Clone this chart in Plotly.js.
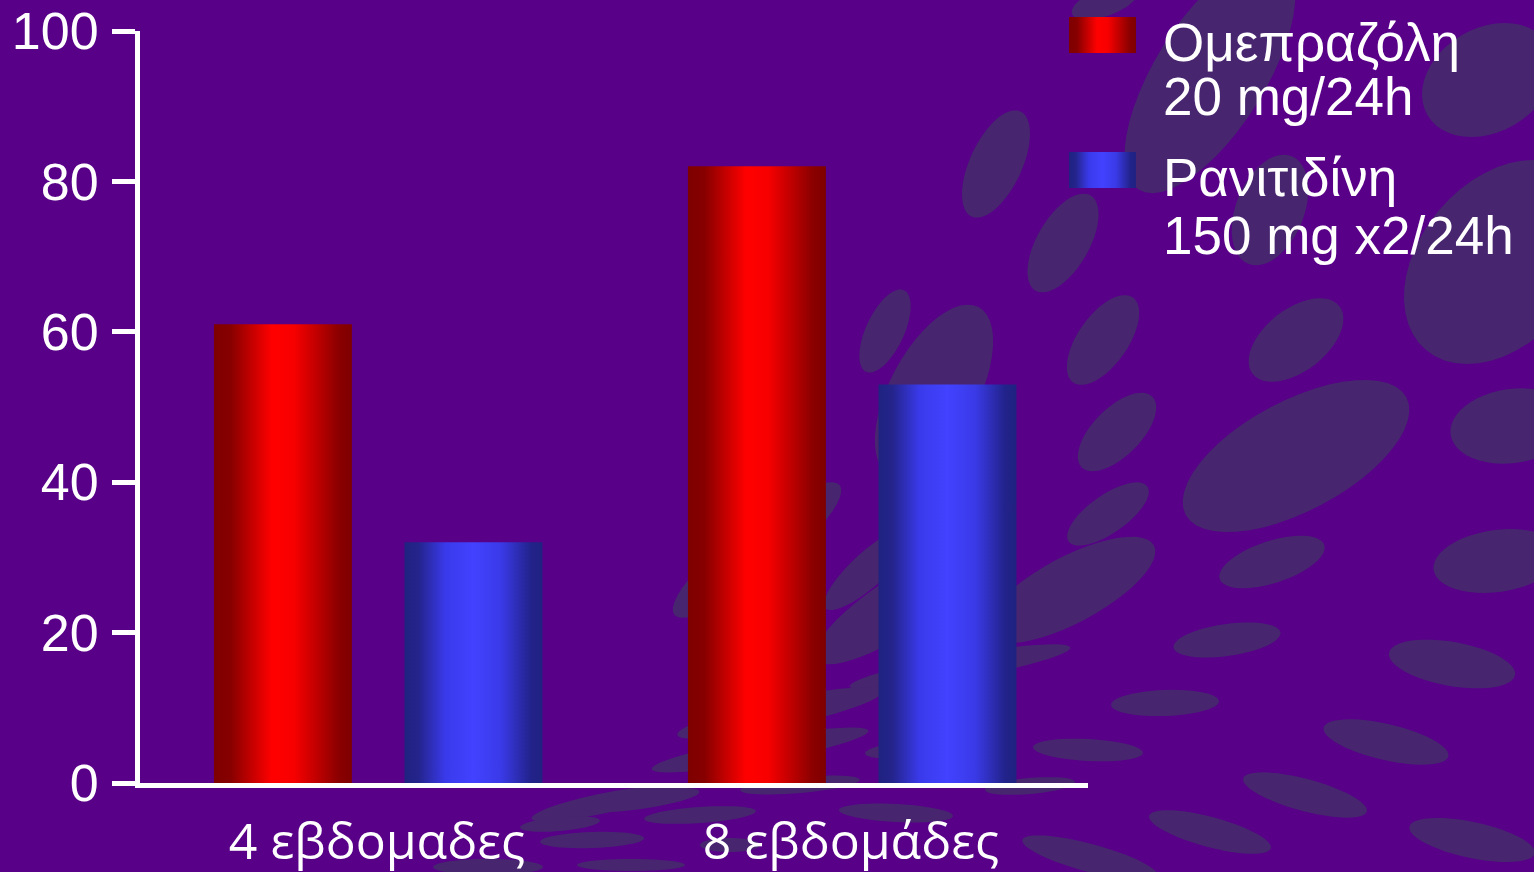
<!DOCTYPE html>
<html>
<head>
<meta charset="utf-8">
<script src="https://cdn.plot.ly/plotly-3.0.1.min.js"></script>
<style>
  html, body { margin: 0; padding: 0; background: #580088; }
  #chart { width: 1534px; height: 872px; }
</style>
</head>
<body>
<div id="chart"></div>
<script>
// ---- data ----
const categories = ['4 εβδομαδες', '8 εβδομάδες'];
const omeprazole = [61, 82];
const ranitidine = [32, 53];
const seriesNames = ['Ομεπραζόλη 20 mg/24h', 'Ρανιτιδίνη 150 mg x2/24h'];
const legendLines = [['Ομεπραζόλη', '20 mg/24h'], ['Ρανιτιδίνη', '150 mg x2/24h']];
const yTicks = [0, 20, 40, 60, 80, 100];

// ---- layout geometry (pixels) ----
const W = 1534, H = 872;
const M = { l: 140, r: 446, t: 31, b: 89 };
const PW = W - M.l - M.r, PH = H - M.t - M.b;
const px = x => (x - M.l) / PW;
const py = y => (H - M.b - y) / PH;

// decorative background ellipses: [cx, cy, rx, ry, rotation deg] in pixels
const blobs = [
  [1210, 75, 135, 55, -58], [1105, 2, 35, 14, -20], [1488, 80, 70, 52, -30],
  [1270, 210, 58, 34, -68],
  [1500, 262, 115, 80, -50], [996, 164, 58, 26, -65], [1063, 243, 55, 26, -60],
  [885, 331, 45, 19, -65], [934, 391, 95, 44, -62], [1103, 340, 52, 25, -55],
  [1296, 340, 55, 31, -38], [1117, 432, 50, 24, -45], [1296, 456, 125, 55, -28],
  [1512, 426, 62, 37, -8], [1108, 514, 48, 19, -35], [1272, 562, 55, 21, -18],
  [1497, 561, 64, 31, -8], [1070, 590, 95, 33, -28], [1227, 640, 54, 16, -8],
  [1452, 664, 64, 22, 10], [960, 667, 112, 12, -10], [1165, 703, 54, 13, -2],
  [1386, 742, 64, 18, 13], [1088, 750, 55, 11, 3], [1305, 795, 64, 16, 15],
  [1210, 832, 63, 15, 15], [1090, 858, 70, 14, 15], [1472, 840, 64, 18, 12],
  [757, 550, 105, 26, -38], [870, 568, 60, 17, -42], [900, 605, 100, 28, -33],
  [780, 713, 105, 14, -12], [760, 750, 110, 12, -10], [905, 750, 40, 8, -5],
  [800, 785, 60, 8, -5], [1030, 786, 45, 8, -5],
  [600, 804, 70, 10, -12], [640, 800, 60, 9, -8], [700, 815, 56, 8, -4],
  [560, 824, 40, 7, -5], [896, 813, 57, 9, 3], [592, 840, 52, 8, -2],
  [631, 865, 54, 6, 0], [730, 845, 30, 7, 0], [488, 867, 55, 8, 0]
];

function ellipsePath(cx, cy, rx, ry, deg) {
  const a = deg * Math.PI / 180, n = 48;
  let d = '';
  for (let i = 0; i < n; i++) {
    const t = 2 * Math.PI * i / n;
    const x = cx + rx * Math.cos(t) * Math.cos(a) - ry * Math.sin(t) * Math.sin(a);
    const y = cy + rx * Math.cos(t) * Math.sin(a) + ry * Math.sin(t) * Math.cos(a);
    d += (i === 0 ? 'M' : 'L') + px(x).toFixed(5) + ',' + py(y).toFixed(5);
  }
  return d + 'Z';
}

const shapes = blobs.map(b => ({
  type: 'path', xref: 'paper', yref: 'paper', layer: 'below',
  path: ellipsePath(...b), fillcolor: '#47266f', line: { width: 0 }
}));

// legend swatches
const swatchColors = ['#ff0000', '#4040ff'];
const swatchY = [[17, 53], [152, 188]];
swatchY.forEach((s, i) => shapes.push({
  type: 'rect', xref: 'paper', yref: 'paper', layer: 'above',
  x0: px(1069), x1: px(1136), y0: py(s[1]), y1: py(s[0]),
  fillcolor: swatchColors[i], line: { width: 0 }
}));

const lineY = [[42, 96], [177, 235]];
const annotations = [];
legendLines.forEach((lines, i) => lines.forEach((txt, j) => annotations.push({
  xref: 'paper', yref: 'paper', x: px(1161), y: py(lineY[i][j]),
  xanchor: 'left', yanchor: 'middle', showarrow: false, text: txt,
  font: { family: 'Liberation Sans, Arial, sans-serif', size: 53, color: '#ffffff' }
})));

const traces = [
  { type: 'bar', name: seriesNames[0], x: categories, y: omeprazole, width: 0.291, offset: -0.344,
    marker: { color: '#ff0000', line: { width: 0 } }, hoverinfo: 'none' },
  { type: 'bar', name: seriesNames[1], x: categories, y: ranitidine, width: 0.291, offset: 0.058,
    marker: { color: '#4040ff', line: { width: 0 } }, hoverinfo: 'none' }
];

const layout = {
  width: W, height: H,
  margin: M,
  paper_bgcolor: '#580088',
  plot_bgcolor: 'rgba(0,0,0,0)',
  showlegend: false,
  barmode: 'group',
  xaxis: {
    type: 'category', range: [-0.5, 1.5], fixedrange: true,
    showline: true, linecolor: '#ffffff', linewidth: 5,
    ticks: '', showgrid: false, zeroline: false,
    tickfont: { family: 'Open Sans, sans-serif', size: 50, color: '#ffffff' },
    ticklabelstandoff: 11
  },
  yaxis: {
    range: [0, 100], fixedrange: true,
    tickmode: 'array', tickvals: yTicks, ticktext: yTicks.map(String),
    showline: true, linecolor: '#ffffff', linewidth: 5,
    ticks: 'outside', ticklen: 23, tickwidth: 5, tickcolor: '#ffffff',
    showgrid: false, zeroline: false,
    ticklabelstandoff: 3,
    tickfont: { family: 'Liberation Sans, Arial, sans-serif', size: 52, color: '#ffffff' }
  },
  shapes: shapes,
  annotations: annotations
};

const gradients = [
  { id: 'gradRed', stops: [[0, '#7e0000'], [0.12, '#870000'], [0.42, '#ff0000'], [0.58, '#f80000'], [0.9, '#8c0000'], [1, '#7e0000']] },
  { id: 'gradBlue', stops: [[0, '#202280'], [0.1, '#24248c'], [0.3, '#3a3aec'], [0.5, '#4242ff'], [0.7, '#3a3ae8'], [0.92, '#22228a'], [1, '#202280']] }
];

function applyGradients(gd) {
  const NS = 'http://www.w3.org/2000/svg';
  const svg = gd.querySelector('.main-svg');
  let defs = svg.querySelector('defs');
  if (!defs) { defs = document.createElementNS(NS, 'defs'); svg.insertBefore(defs, svg.firstChild); }
  gradients.forEach(g => {
    if (defs.querySelector('#' + g.id)) return;
    const lg = document.createElementNS(NS, 'linearGradient');
    lg.setAttribute('id', g.id);
    lg.setAttribute('x1', '0'); lg.setAttribute('x2', '1');
    lg.setAttribute('y1', '0'); lg.setAttribute('y2', '0');
    g.stops.forEach(s => {
      const st = document.createElementNS(NS, 'stop');
      st.setAttribute('offset', s[0]);
      st.setAttribute('stop-color', s[1]);
      lg.appendChild(st);
    });
    defs.appendChild(lg);
  });
  gd.querySelectorAll('.barlayer .trace').forEach((t, i) => {
    t.querySelectorAll('.point path').forEach(p => { p.style.fill = 'url(#' + gradients[i].id + ')'; });
  });
  gd.querySelectorAll('.layer-above .shapelayer path').forEach((p, i) => {
    if (gradients[i]) p.style.fill = 'url(#' + gradients[i].id + ')';
  });
}

const gd = document.getElementById('chart');
Plotly.newPlot(gd, traces, layout, { staticPlot: true, displayModeBar: false }).then(() => applyGradients(gd));
</script>
</body>
</html>
